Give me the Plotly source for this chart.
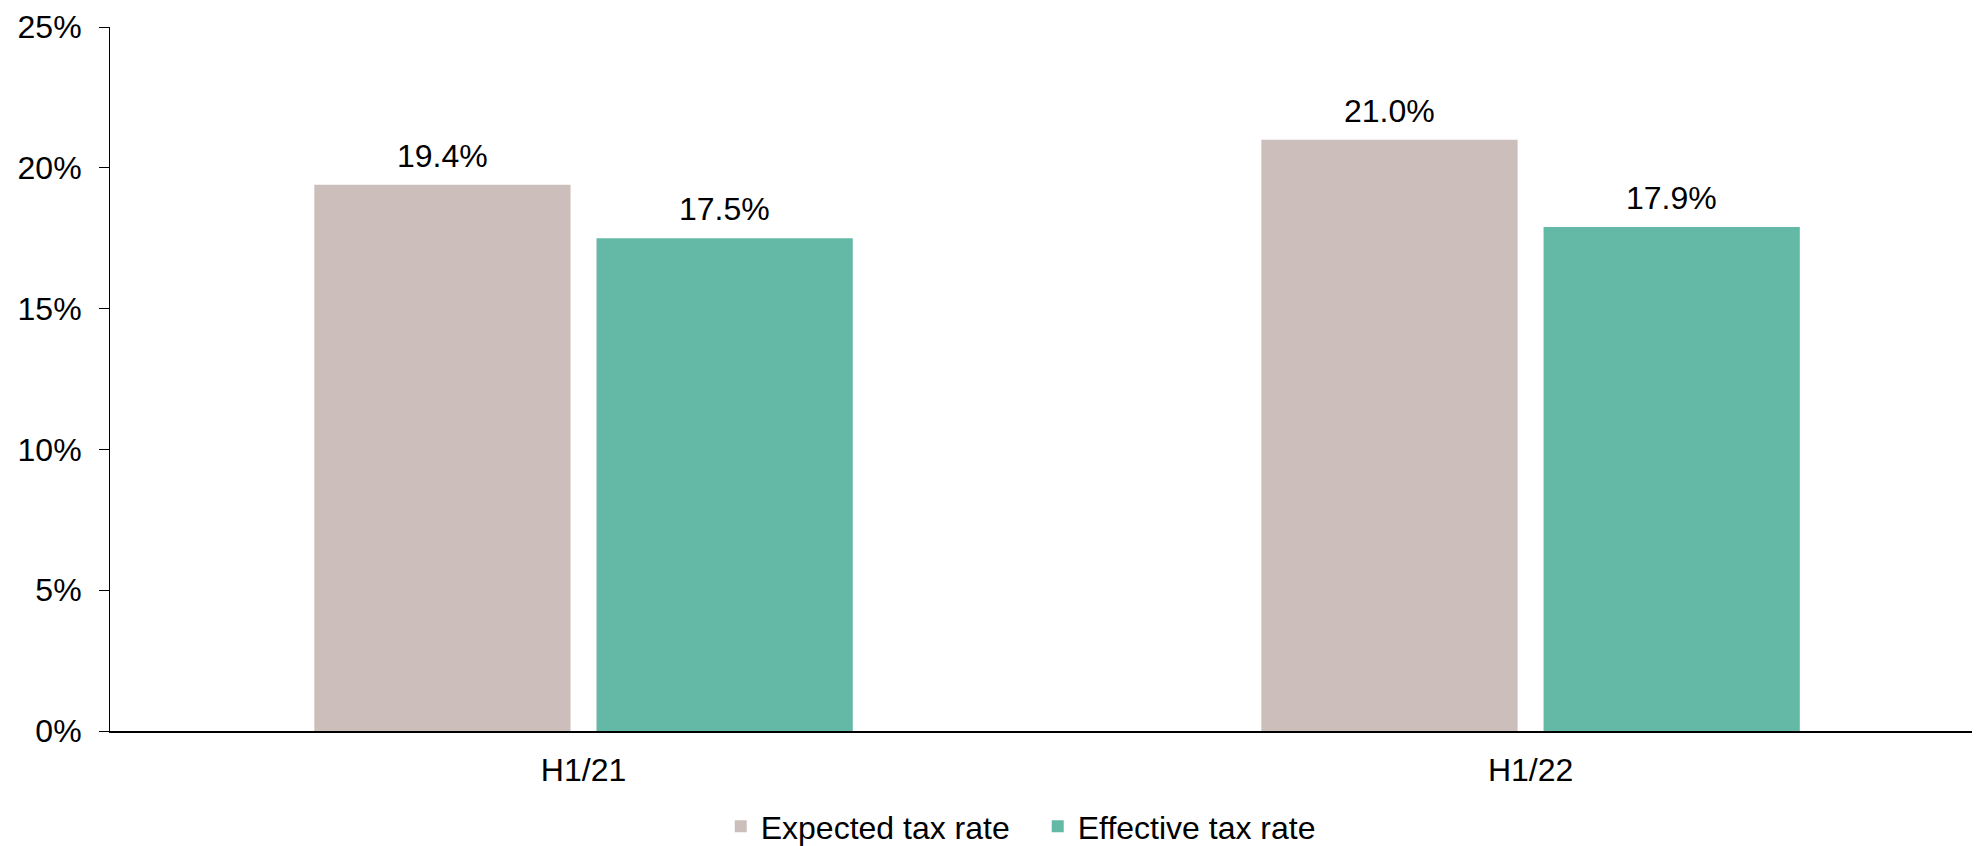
import plotly.graph_objects as go

categories = ["H1/21", "H1/22"]
expected = [19.4, 21.0]
effective = [17.5, 17.9]
series_names = ["Expected tax rate", "Effective tax rate"]
colors = ["#CCBFBB", "#64B8A6"]
y_ticks = [0, 5, 10, 15, 20, 25]
y_tick_labels = [f"{v}%" for v in y_ticks]

FONT = "Liberation Sans, Arial, sans-serif"
FS = 32

fig = go.Figure()
offsets = [-141, 141]
for name, vals, col, off in zip(series_names, [expected, effective], colors, offsets):
    fig.add_trace(go.Bar(
        x=categories, y=vals, name=name,
        marker=dict(color=col, line=dict(width=0)),
    ))
    for c, v in zip(categories, vals):
        fig.add_annotation(x=c, y=v, text=f"{v:.1f}%", showarrow=False,
                           xshift=off, yshift=9, yanchor="bottom",
                           font=dict(size=FS, color="#000000", family=FONT))

fig.update_layout(
    width=1980, height=846,
    margin=dict(l=102, r=0, t=19, b=122),
    paper_bgcolor="white", plot_bgcolor="white",
    barmode="group", bargap=0.404, bargroupgap=0.092,
    font=dict(family=FONT, size=FS, color="#000000"),
    showlegend=True,
    legend=dict(orientation="h", x=0.494, xanchor="center", y=-0.136, yanchor="middle",
                font=dict(size=FS, family=FONT), traceorder="normal",
                entrywidth=272),
    xaxis=dict(range=[-0.5, 1.483], showline=True, linecolor="#000000", linewidth=2,
               ticks="", showgrid=False, zeroline=False, automargin=False,
               ticklabelstandoff=10,
               tickfont=dict(size=FS, family=FONT)),
    yaxis=dict(range=[0, 25], tickvals=y_ticks, ticktext=y_tick_labels,
               showline=True, linecolor="#000000", linewidth=1,
               ticks="outside", ticklen=10, tickwidth=1, tickcolor="#000000",
               showgrid=False, zeroline=False, ticklabelstandoff=11, automargin=False,
               tickfont=dict(size=FS, family=FONT)),
)

fig.write_html("out.html")
